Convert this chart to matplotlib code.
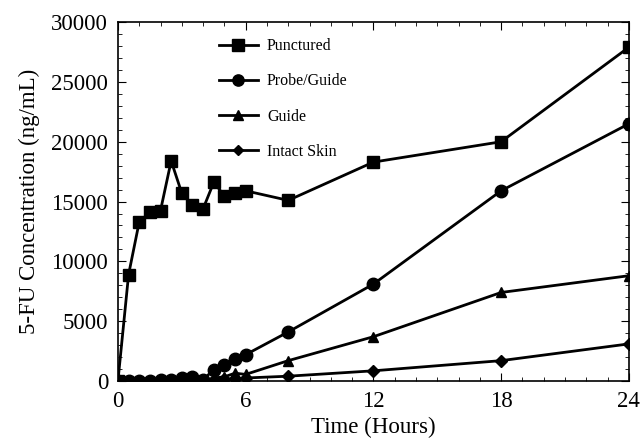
import matplotlib.pyplot as plt
from matplotlib.ticker import MultipleLocator

plt.rcParams["font.family"] = ["Liberation Serif", "DejaVu Serif"]

hours = [0, 0.5, 1, 1.5, 2, 2.5, 3, 3.5, 4, 4.5, 5, 5.5, 6, 8, 12, 18, 24]
punctured = [0, 8900, 13300, 14100, 14250, 18400, 15700, 14700, 14400, 16600,
             15500, 15700, 15900, 15100, 18300, 20000, 27900]
probe_guide = [0, 0, 0, 0, 50, 100, 250, 350, 100, 950, 1350, 1800, 2200,
               4100, 8100, 15900, 21500]
guide = [0, 0, 0, 0, 0, 0, 50, 100, 0, 250, 350, 650, 550, 1700, 3700, 7400, 8800]
intact_skin = [0, 0, 0, 0, 0, 0, 0, 0, 0, 100, 150, 200, 250, 400, 850, 1700, 3100]

series = [
    ("Punctured", punctured, "s", 9),
    ("Probe/Guide", probe_guide, "o", 9),
    ("Guide", guide, "^", 7.5),
    ("Intact Skin", intact_skin, "D", 6),
]

fig = plt.figure(figsize=(6.41, 4.43), dpi=100)
ax = fig.add_axes([0.184, 0.140, 0.797, 0.810])

for name, vals, mk, ms in series:
    ax.plot(hours, vals, color="black", lw=2, marker=mk, ms=ms, label=name)

ax.set_xlim(0, 24)
ax.set_ylim(0, 30000)
ax.xaxis.set_major_locator(MultipleLocator(6))
ax.xaxis.set_minor_locator(MultipleLocator(1))
ax.yaxis.set_major_locator(MultipleLocator(5000))
ax.yaxis.set_minor_locator(MultipleLocator(1000))
ax.tick_params(which="both", direction="in", top=True, right=True, labelsize=16.5)
ax.tick_params(which="major", length=6, pad=7)
ax.tick_params(which="minor", length=3)
for s in ax.spines.values():
    s.set_linewidth(1.2)

ax.set_xlabel("Time (Hours)", fontsize=16.5, labelpad=4)
ax.set_ylabel("5-FU Concentration (ng/mL)", fontsize=16.5, labelpad=8)

leg = ax.legend(loc="upper left", bbox_to_anchor=(0.17, 0.995), frameon=False,
                fontsize=11.5, labelspacing=1.2, handlelength=2.4,
                handletextpad=0.6, markerscale=0.9)

fig.savefig("out.png", dpi=100)
